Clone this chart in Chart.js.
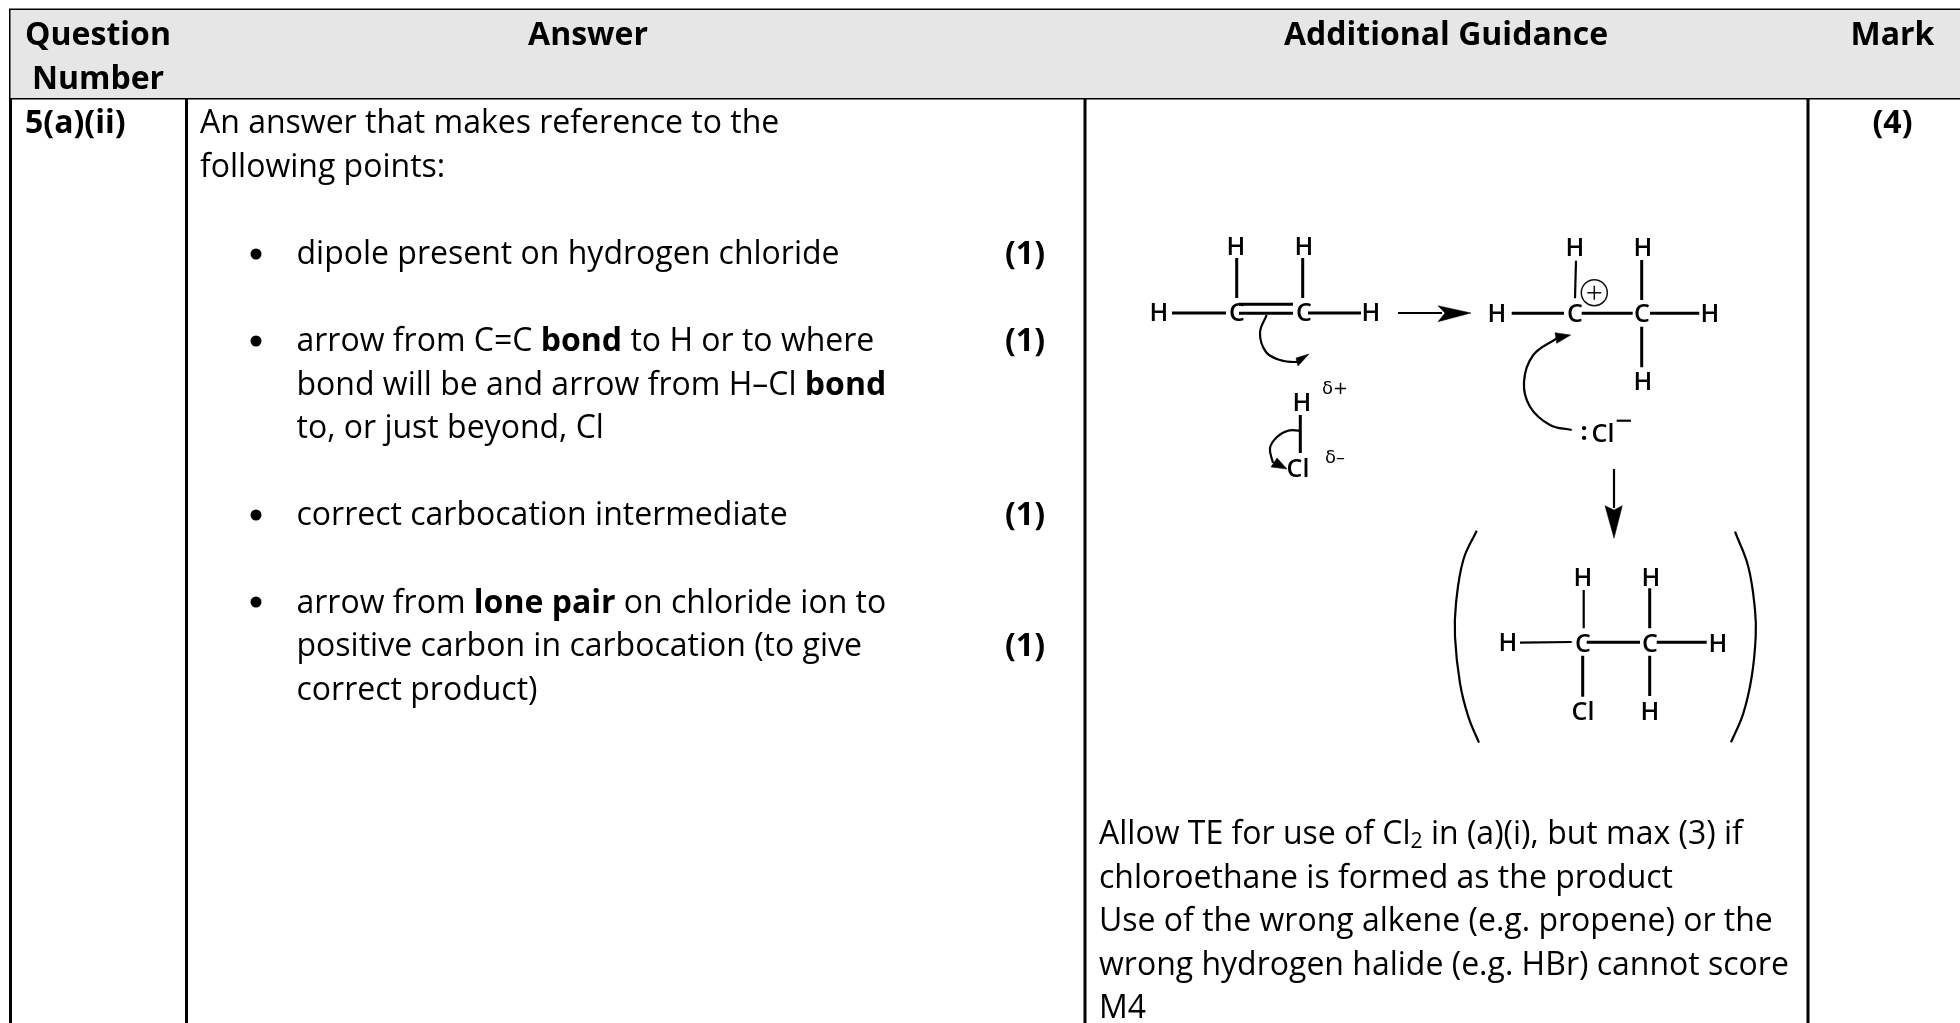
<!DOCTYPE html>
<html><head><meta charset="utf-8">
<style>html,body{margin:0;padding:0;background:#fff;overflow:hidden}canvas{display:block}</style>
<script src="https://cdn.jsdelivr.net/npm/chart.js@4"></script>
</head><body><canvas id="c" width="1960" height="1023"></canvas>
<script>
const columnEdges=[10.5,186.5,1085,1808];
const tableRight=1960, tableTop=10, headerBottom=98, tableBottom=1023;
const FONT='"Open Sans"';
const bodySize=32;
const headers=[["Question",98,45],["Number",98,88.5],["Answer",588,45],["Additional Guidance",1446,45],["Mark",1892.5,45]];
const bodyRows=[
 [25,133,[["5(a)(ii)",1]]],
 [200,133,[["An answer that makes reference to the",0]]],
 [200,176.6,[["following points:",0]]],
 [296.5,263.8,[["dipole present on hydrogen chloride",0]]],
 [296.5,351,[["arrow from C=C ",0],["bond",1],[" to H or to where",0]]],
 [296.5,394.6,[["bond will be and arrow from H–Cl ",0],["bond",1]]],
 [296.5,438.2,[["to, or just beyond, Cl",0]]],
 [296.5,525.4,[["correct carbocation intermediate",0]]],
 [296.5,612.6,[["arrow from ",0],["lone pair",1],[" on chloride ion to",0]]],
 [296.5,656.2,[["positive carbon in carbocation (to give",0]]],
 [296.5,699.8,[["correct product)",0]]],
 [1005,263.8,[["(1)",1]]],[1005,351,[["(1)",1]]],[1005,525.4,[["(1)",1]]],[1005,656.2,[["(1)",1]]],
 [1099,844,[["Allow TE for use of Cl",0],["2",2],[" in (a)(i), but max (3) if",0]]],
 [1099,887.6,[["chloroethane is formed as the product",0]]],
 [1099,931.2,[["Use of the wrong alkene (e.g. propene) or the",0]]],
 [1099,974.8,[["wrong hydrogen halide (e.g. HBr) cannot score",0]]],
 [1099,1018.4,[["M4",0]]],
];
const markText=[["(4)",1892.5,133]];
const bulletPoints=[[256,254],[256,341],[256,515],[256,602]];
const atoms=[
 ["H",1236,248],["H",1304,248],["H",1159,314],["C",1237,314],["C",1304,314],["H",1371,314],["H",1302,404],["Cl",1298,470],
 ["H",1575,249],["H",1643,249],["H",1497,315],["C",1575,315],["C",1642,315],["H",1710,315],["H",1643,383],["Cl",1603,435],
 ["H",1583,579],["H",1651,579],["H",1508,644],["C",1583,645],["C",1650,645],["H",1718,645],["Cl",1583,713],["H",1650,713]
];
const charges=[["δ+",1335,389],["δ–",1335,458],[":",1584,433]];
const heavyBonds=[
 [[1236.7,258],[1236.7,298]],[[1302.7,258],[1302.7,298]],[[1172,313],[1226,313]],
 [[1239,304.3],[1293,304.3]],[[1239,313.3],[1293,313.3]],[[1308,313],[1361,313]],[[1300.3,415],[1300.3,453]],
 [[1641.7,260],[1641.7,300]],[[1511.7,313.3],[1564,313.3]],[[1581.7,313.3],[1632.7,313.3]],[[1650,313.3],[1699.3,313.3]],[[1641.7,326.7],[1641.7,367.3]],
 [[1649.7,588.3],[1649.7,628.3]],[[1586.7,642.3],[1640,642.3]],[[1656.7,642.3],[1706.7,642.3]],[[1582.7,655.7],[1582.7,696.7]],[[1649.7,655.7],[1649.7,696]]
];
const thinBonds=[[[1576,260.7],[1575,298.3]],[[1583.7,590],[1583.7,628.3]],[[1520,642.7],[1571.7,642]],[[1616.7,420.7],[1631,420.7]],[[1398,313],[1442,313]],[[1614,469],[1614,508]]];
const arrowCurves=[
 [[1266.7,315],[1260,333],[1266,352],[1280,360],[1295,362],[1300,360]],
 [[1300,430.7],[1288,430.7],[1277,437],[1270,448],[1273,463]],
 [[1571.7,430],[1550,425],[1530,406.7],[1524,381.7],[1533.3,355],[1556.7,338.3]],
 [[1476.7,530.7],[1463.3,560],[1456,603.3],[1455,636.7],[1460,683.3],[1468.3,716.7],[1479,742.7]],
 [[1735,531.7],[1748.3,566.7],[1755,610],[1755.7,636.7],[1751.7,676.7],[1743.3,713.3],[1731,742.3]]
];
const arrowHeads=[
 [[1471,313],[1438,305.7],[1445,313],[1438,321.7],[1471,313]],
 [[1309,354],[1296,358],[1298,366],[1309,354]],
 [[1287,469],[1277,458],[1271,467],[1287,469]],
 [[1570.7,335],[1555,332.7],[1556.7,343.3],[1570.7,335]],
 [[1614,538.3],[1605,505.7],[1614,510],[1622.3,505.7],[1614,538.3]]
];
const plusCharge=[[1594.3,292.7]];

const xy=p=>({x:p[0],y:p[1]});
const base={showLine:true,pointRadius:0,borderColor:'#000',clip:false,fill:false};
const datasets=[];
const [t,hb,tb]=[tableTop,headerBottom,tableBottom];
const L=columnEdges[0],R=tableRight;
datasets.push({...base,data:[[L,t],[R,t],[R,hb],[L,hb],[L,t]].map(xy),fill:'shape',backgroundColor:'#e6e6e6',borderWidth:0,borderColor:'rgba(0,0,0,0)'});
columnEdges.forEach(x=>datasets.push({...base,data:[[x,t],[x,tb]].map(xy),borderWidth:3}));
[t,hb].forEach(y=>datasets.push({...base,data:[[L-1.5,y],[R,y]].map(xy),borderWidth:3}));
heavyBonds.forEach(b=>datasets.push({...base,data:b.map(xy),borderWidth:3}));
thinBonds.forEach(b=>datasets.push({...base,data:b.map(xy),borderWidth:2.2}));
arrowCurves.forEach(c=>datasets.push({...base,data:c.map(xy),borderWidth:2.2,tension:.4}));
arrowHeads.forEach(h=>datasets.push({...base,data:h.map(xy),fill:'shape',backgroundColor:'#000',borderWidth:.5}));
datasets.push({showLine:false,data:plusCharge.map(xy),pointStyle:'circle',pointRadius:13,pointBorderWidth:1.5,pointBorderColor:'#111',pointBackgroundColor:'rgba(0,0,0,0)',clip:false});
datasets.push({showLine:false,data:plusCharge.map(xy),pointStyle:'cross',pointRadius:7,pointBorderWidth:1.5,pointBorderColor:'#111',clip:false});
datasets.push({showLine:false,data:bulletPoints.map(xy),pointStyle:'circle',pointRadius:5.5,pointBorderWidth:0,pointBackgroundColor:'#000',clip:false});

const textPlugin={id:'tableText',afterDatasetsDraw(chart){
 const c=chart.ctx,X=chart.scales.x,Y=chart.scales.y;
 c.save();c.fillStyle='#000';c.textBaseline='alphabetic';
 const fonts=[`${bodySize}px ${FONT}`,`bold ${bodySize}px ${FONT}`,`21px ${FONT}`];
 c.textAlign='center';c.font=fonts[1];
 headers.forEach(h=>c.fillText(h[0],X.getPixelForValue(h[1]),Y.getPixelForValue(h[2])));
 markText.forEach(h=>c.fillText(h[0],X.getPixelForValue(h[1]),Y.getPixelForValue(h[2])));
 c.textAlign='left';
 bodyRows.forEach(r=>{let x=X.getPixelForValue(r[0]);const y=Y.getPixelForValue(r[1]);
  r[2].forEach(s=>{c.font=fonts[s[1]];c.fillText(s[0],x,y+(s[1]==2?4:0));x+=c.measureText(s[0]).width;});});
 c.textAlign='center';c.textBaseline='middle';
 c.font=`600 25px ${FONT}`;
 atoms.forEach(a=>{c.fillText(a[0],X.getPixelForValue(a[1]),Y.getPixelForValue(a[2]));});
 c.font=`18px "DejaVu Sans"`;
 charges.slice(0,2).forEach(a=>c.fillText(a[0],X.getPixelForValue(a[1]),Y.getPixelForValue(a[2])));
 c.font=`bold 25px ${FONT}`;
 c.fillText(charges[2][0],X.getPixelForValue(charges[2][1]),Y.getPixelForValue(charges[2][2]));
 c.restore();
}};
new Chart(document.getElementById('c'),{type:'scatter',data:{datasets},plugins:[textPlugin],options:{
 responsive:false,animation:false,events:[],layout:{padding:0,autoPadding:false},
 plugins:{legend:{display:false},tooltip:{enabled:false},title:{display:false}},
 scales:{x:{type:'linear',display:false,min:0,max:1960},y:{type:'linear',display:false,min:0,max:1023,reverse:true}}
}});
</script></body></html>
